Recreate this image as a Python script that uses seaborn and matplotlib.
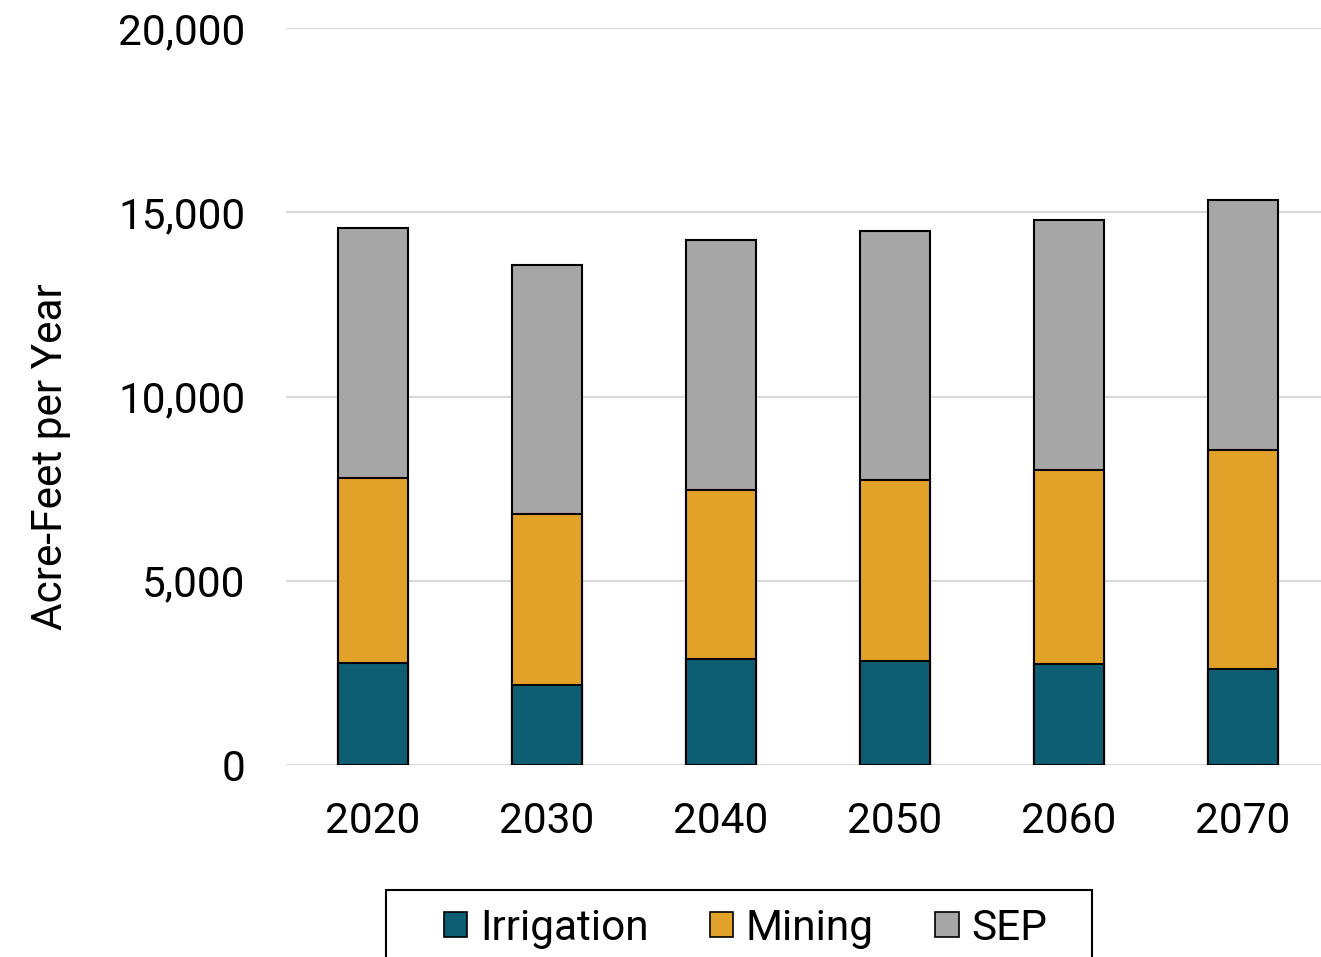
import matplotlib
matplotlib.use('Agg')
import matplotlib.pyplot as plt
import seaborn as sns
import numpy as np
from matplotlib.patches import Patch, Rectangle

# Datos (acre-pies por año)
years = ['2020', '2030', '2040', '2050', '2060', '2070']
irrigation = [2770, 2170, 2880, 2820, 2740, 2610]
mining = [5020, 4640, 4590, 4910, 5260, 5940]
sep = [6790, 6760, 6780, 6760, 6790, 6780]

c_irr = '#0E5E73'
c_min = '#E2A229'
c_sep = '#A6A6A6'

sns.set_style('white')
plt.rcParams['font.family'] = ['Roboto', 'DejaVu Sans']
plt.rcParams['text.color'] = 'black'
plt.rcParams['axes.labelcolor'] = 'black'

fig = plt.figure(figsize=(13.21, 9.57), dpi=100)
ax = fig.add_axes([0.2165, 0.2006, 0.7903, 0.7701])

tot_min = np.array(irrigation) + np.array(mining)
tot_sep = tot_min + np.array(sep)

# Barras apiladas: se dibujan los acumulados de arriba hacia abajo
for vals, col in [(tot_sep, c_sep), (tot_min, c_min), (irrigation, c_irr)]:
    sns.barplot(x=years, y=vals, color=col, saturation=1, width=0.402,
                edgecolor='black', linewidth=1.5, ax=ax, zorder=3)

ax.set_ylim(0, 20000)
ax.set_xlim(-0.5, 5.5)
ax.set_yticks(np.arange(0, 20001, 5000))
ax.set_yticklabels([f'{v:,}' for v in range(0, 20001, 5000)])
ax.yaxis.grid(True, color='#D9D9D9', linewidth=1.5, zorder=0)
ax.set_axisbelow(True)
for s in ax.spines.values():
    s.set_visible(False)
ax.tick_params(axis='both', length=0, labelsize=30.5, colors='black')
ax.tick_params(axis='x', pad=26)
ax.tick_params(axis='y', pad=29)
ax.set_xlabel('')
ax.set_ylabel('Acre-Feet per Year', fontsize=30.5, color='black')
ax.yaxis.set_label_coords(-0.206, 0.419)

handles = [Patch(facecolor=c_irr, edgecolor='black', linewidth=1.2, label='Irrigation'),
           Patch(facecolor=c_min, edgecolor='black', linewidth=1.2, label='Mining'),
           Patch(facecolor=c_sep, edgecolor='black', linewidth=1.2, label='SEP')]
leg = fig.legend(handles=handles, loc='center', bbox_to_anchor=(0.5643, 0.0303),
                 ncol=3, fontsize=30.5, frameon=False, labelcolor='black',
                 handlelength=0.55, handleheight=0.55, handletextpad=0.3,
                 columnspacing=1.45, borderpad=0)

# marco de la leyenda (cortado por el borde inferior, como en el original)
fig.patches.append(Rectangle((386 / 1321, -0.05), (1092 - 386) / 1321, (957 - 890) / 957 + 0.05,
                             transform=fig.transFigure, fill=False,
                             edgecolor='black', linewidth=1.5))

fig.savefig('out.png', dpi=100)
